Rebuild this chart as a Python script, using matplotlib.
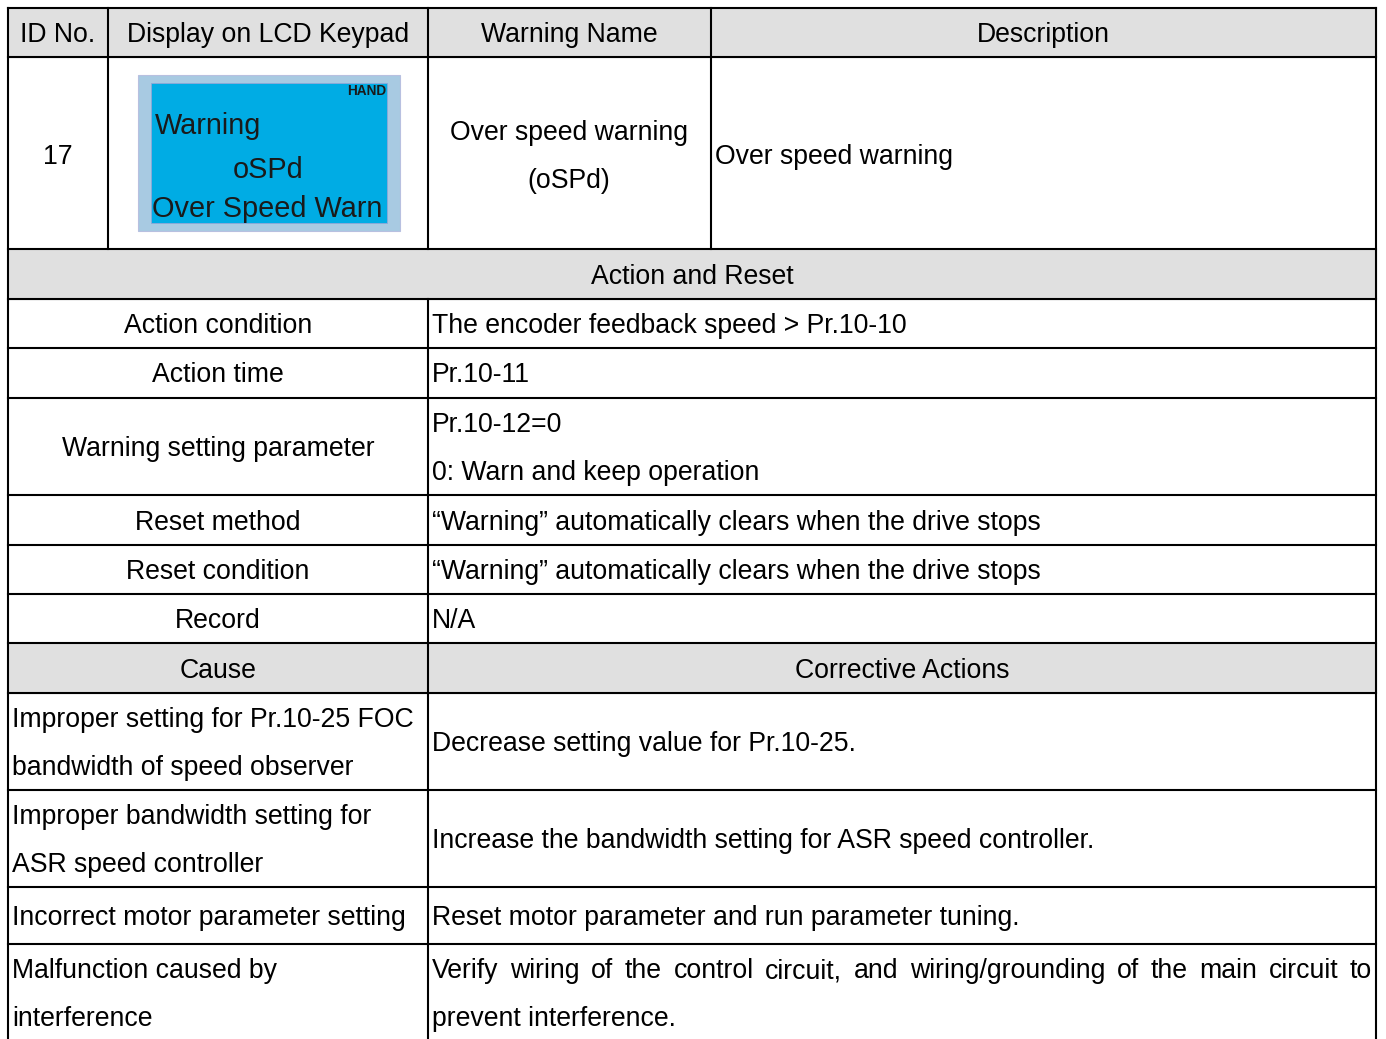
import matplotlib
matplotlib.use("Agg")
import matplotlib.pyplot as plt
from matplotlib.patches import Rectangle

plt.rcParams['font.family'] = ['Liberation Sans', 'DejaVu Sans']

# ---- data ----
header_labels = ["ID No.", "Display on LCD Keypad", "Warning Name", "Description"]
warning_id = "17"
lcd_lines = ["Warning", "oSPd", "Over Speed Warn"]
lcd_mode = "HAND"
warning_name = ["Over speed warning", "(oSPd)"]
description = "Over speed warning"
section_title = "Action and Reset"
action_labels = ["Action condition", "Action time", "Warning setting parameter",
                 "Reset method", "Reset condition", "Record"]
action_values = [["The encoder feedback speed > Pr.10-10"],
                 ["Pr.10-11"],
                 ["Pr.10-12=0", "0: Warn and keep operation"],
                 ["\u201cWarning\u201d automatically clears when the drive stops"],
                 ["\u201cWarning\u201d automatically clears when the drive stops"],
                 ["N/A"]]
cause_header = ["Cause", "Corrective Actions"]
causes = [["Improper setting for Pr.10-25 FOC", "bandwidth of speed observer"],
          ["Improper bandwidth setting for", "ASR speed controller"],
          ["Incorrect motor parameter setting"],
          ["Malfunction caused by", "interference"]]
actions = [["Decrease setting value for Pr.10-25."],
           ["Increase the bandwidth setting for ASR speed controller."],
           ["Reset motor parameter and run parameter tuning."],
           ["Verify wiring of the control circuit, and wiring/grounding of the main circuit to",
            "prevent interference."]]

# ---- layout (pixels) ----
W, H = 1386, 1039
fig = plt.figure(figsize=(W / 100, H / 100), dpi=100)
ax = fig.add_axes([0, 0, 1, 1])
ax.set_xlim(0, W)
ax.set_ylim(H, 0)
ax.axis('off')

FS = 19.2
LW = 1.5
GRAY = '#e0e0e0'
DY = 2.5
xs = [8, 108, 428, 711, 1376]
top = 8
row_lines = [57, 249, 299, 348, 398, 495, 545, 594, 643, 693, 790, 887, 944, 1045]

# shaded rows
ax.add_patch(Rectangle((xs[0], top), xs[-1] - xs[0], 57 - top, color=GRAY, zorder=0))
ax.add_patch(Rectangle((xs[0], 249), xs[-1] - xs[0], 50, color=GRAY, zorder=0))
ax.add_patch(Rectangle((xs[0], 643), xs[-1] - xs[0], 50, color=GRAY, zorder=0))

def hline(y, x0=xs[0], x1=xs[-1]):
    ax.plot([x0, x1], [y, y], color='black', lw=LW, solid_capstyle='projecting', zorder=3)

def vline(x, y0, y1):
    ax.plot([x, x], [y0, y1], color='black', lw=LW, solid_capstyle='projecting', zorder=3)

hline(top)
for y in row_lines[:-1]:
    hline(y)
vline(xs[0], top, H + 5)
vline(xs[-1], top, H + 5)
for x in xs[1:4]:
    vline(x, top, 249)
vline(428, 299, H + 5)

def txt(x, y, s, ha='left', **kw):
    return ax.text(x, y + DY, s, ha=ha, va='center', fontsize=kw.pop('fs', FS), color='black', zorder=4, **kw)

# header
for i, lab in enumerate(header_labels):
    txt((xs[i] + xs[i + 1]) / 2, 33, lab, ha='center')

# row 17
txt(58, 154, warning_id, ha='center')
txt(569, 131, warning_name[0], ha='center')
txt(569, 178, warning_name[1], ha='center')
txt(715, 154, description)

# LCD
LFS = 20.8
ax.add_patch(Rectangle((138, 75), 262, 156, facecolor='#a8cae2', edgecolor='#b8c0e0', lw=0.8, zorder=1))
ax.add_patch(Rectangle((151, 83), 236, 140, facecolor='#00ace4', edgecolor='#8fa8d8', lw=0.6, zorder=2))
ax.text(386, 91, lcd_mode, ha='right', va='center', fontsize=9.8, fontweight='bold', color='#1a1a1a', zorder=4)
ax.text(155, 126, lcd_lines[0], ha='left', va='center', fontsize=LFS, color='#1a1a1a', zorder=4)
ax.text(268, 170, lcd_lines[1], ha='center', va='center', fontsize=LFS, color='#1a1a1a', zorder=4)
ax.text(152, 209, lcd_lines[2], ha='left', va='center', fontsize=LFS, color='#1a1a1a', zorder=4)

# section title
txt(692, 275, section_title, ha='center')

# action rows
bounds = row_lines[2:9]
for i, lab in enumerate(action_labels):
    y0, y1 = bounds[i], bounds[i + 1]
    yc = (y0 + y1) / 2
    txt(218, yc, lab, ha='center')
    vals = action_values[i]
    if len(vals) == 1:
        txt(432, yc, vals[0])
    else:
        txt(432, yc - 24, vals[0])
        txt(432, yc + 24, vals[1])

# cause header
txt(218, 669, cause_header[0], ha='center')
txt(902, 669, cause_header[1], ha='center')

fig.canvas.draw()
renderer = fig.canvas.get_renderer()

def justified(x0, x1, y, s):
    # baseline of the full line when centred; words placed on that baseline
    ref_c = ax.text(x0, y + DY, s, ha='left', va='center', fontsize=FS)
    ref_b = ax.text(x0, y + DY, s, ha='left', va='baseline', fontsize=FS)
    bc = ref_c.get_window_extent(renderer)
    bb = ref_b.get_window_extent(renderer)
    shift_px = bc.y0 - bb.y0
    ref_c.remove(); ref_b.remove()
    yb = round(y + DY - shift_px)
    words = s.split(' ')
    widths = []
    objs = []
    for w in words:
        t = ax.text(0, yb, w, ha='left', va='baseline', fontsize=FS, zorder=4)
        widths.append(t.get_window_extent(renderer).width)
        objs.append(t)
    gap = ((x1 - x0) - sum(widths)) / (len(words) - 1)
    x = x0
    for t, w in zip(objs, widths):
        t.set_x(round(x))
        x += w + gap

cb = row_lines[9:]
for i in range(len(causes)):
    y0, y1 = cb[i], min(cb[i + 1], H + 30)
    c = causes[i]
    a = actions[i]
    if i == 3:
        txt(12, 969, c[0]); txt(12, 1017, c[1])
        justified(432, 1372, 969, a[0])
        txt(432, 1017, a[1])
        continue
    yc = (y0 + y1) / 2
    if len(c) == 2:
        txt(12, yc - 24, c[0]); txt(12, yc + 24, c[1])
    else:
        txt(12, yc, c[0])
    txt(432, yc, a[0])

fig.savefig('out.png', dpi=100)
